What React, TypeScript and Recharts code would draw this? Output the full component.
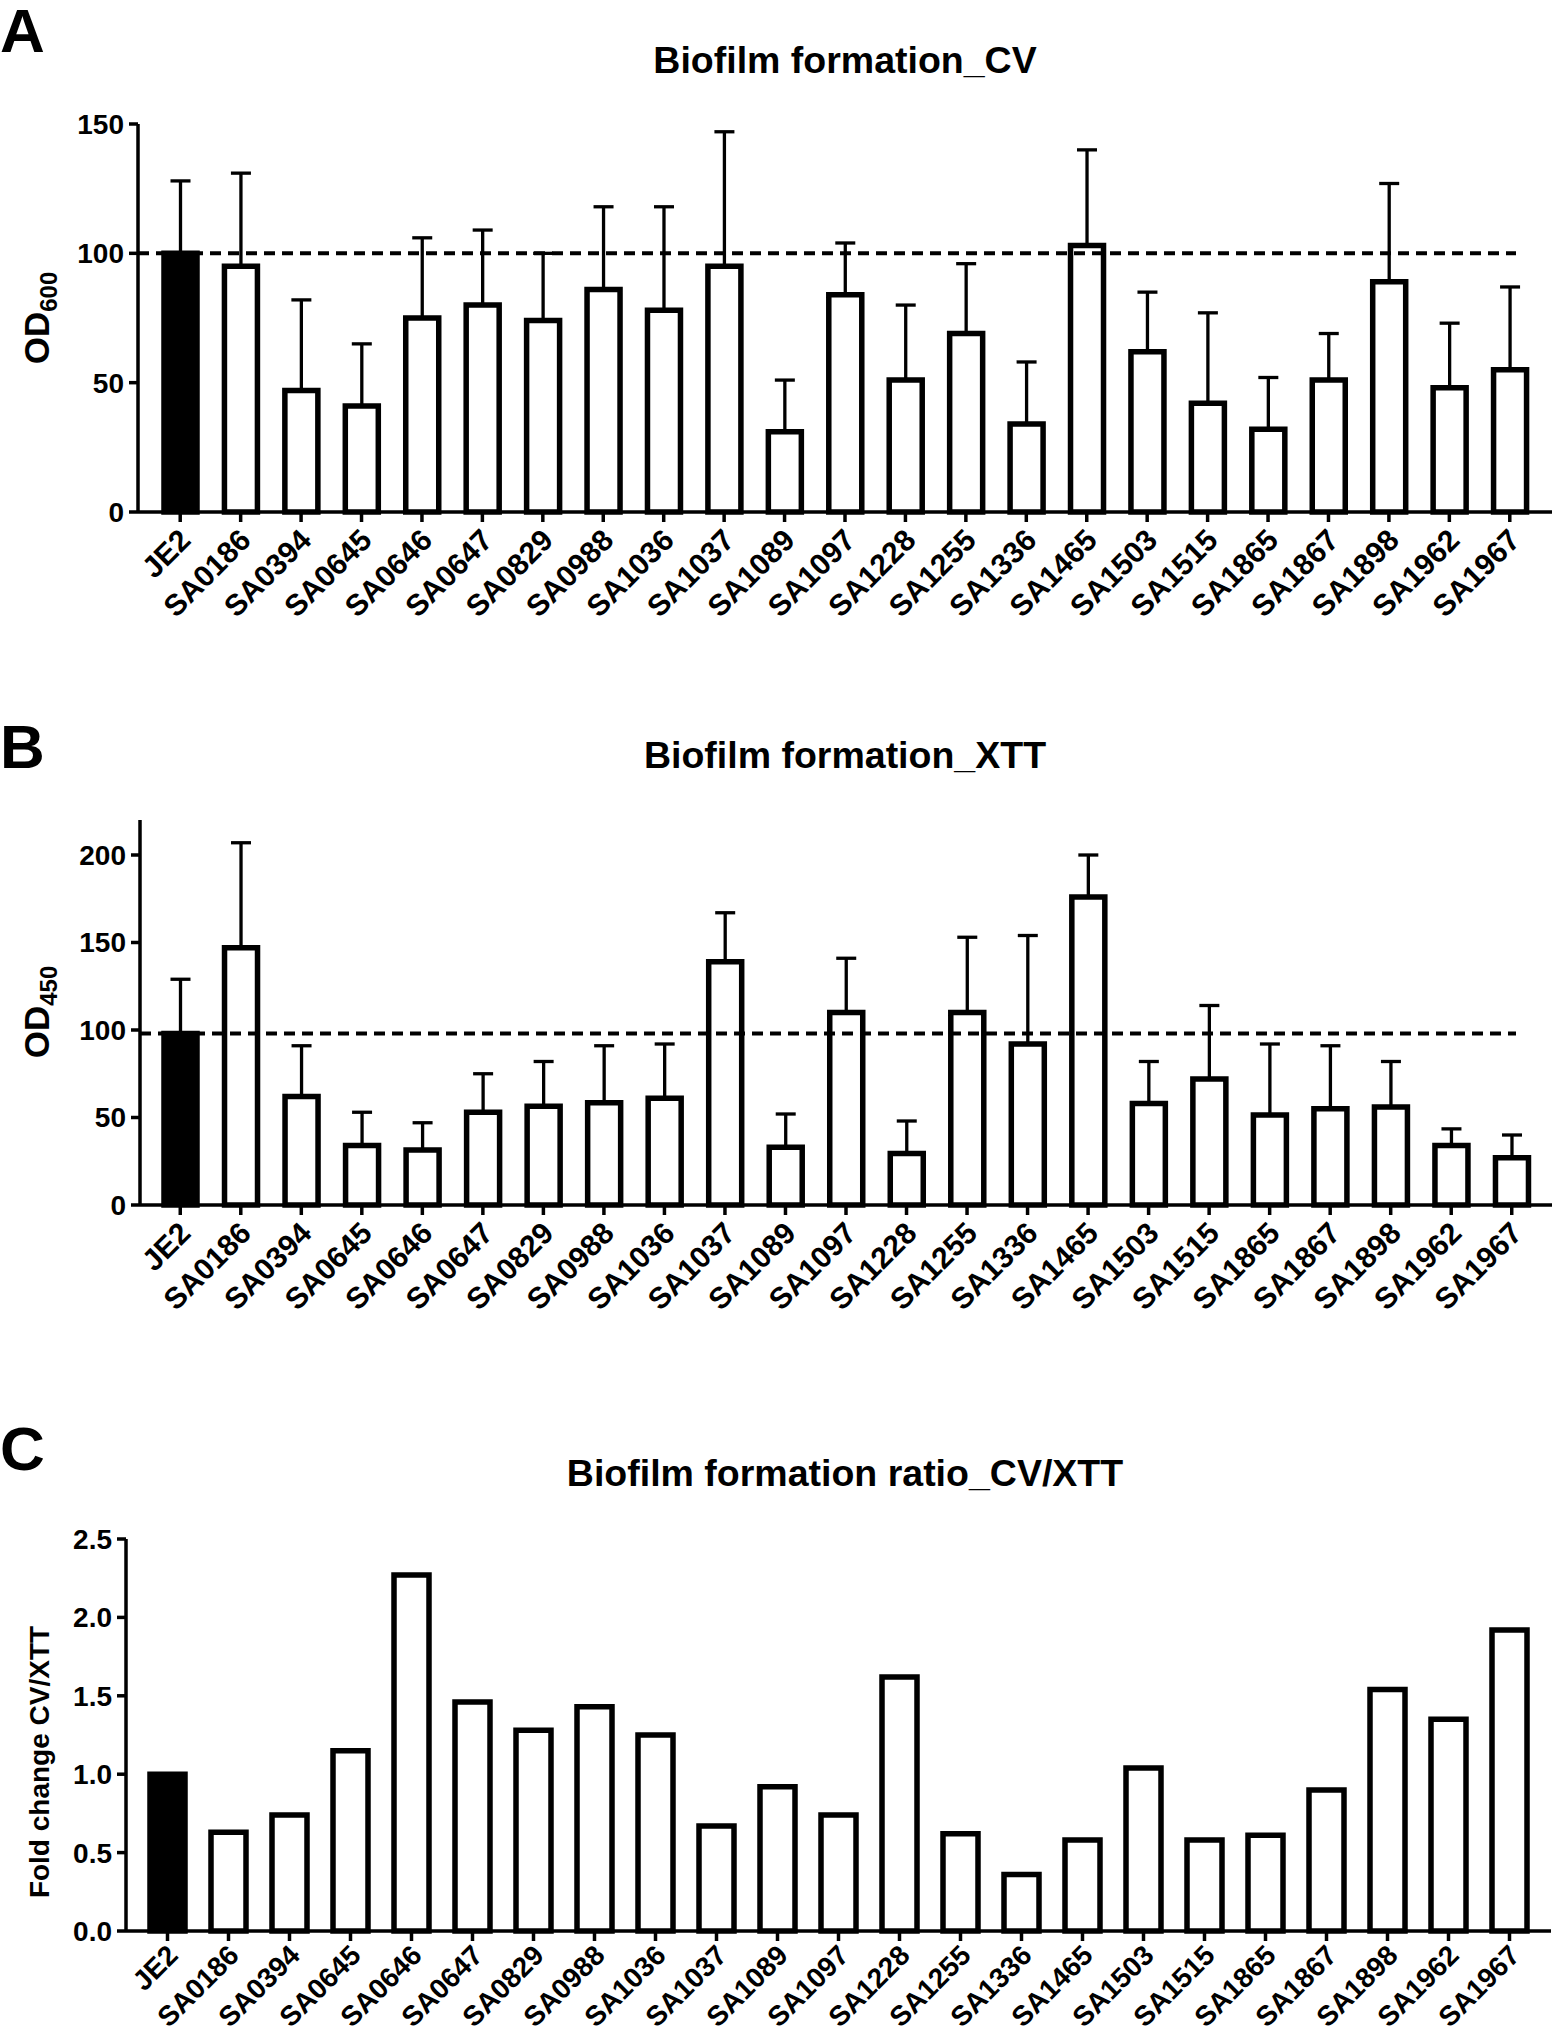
import React from "react";
import { BarChart, Bar, XAxis, YAxis, Cell, ErrorBar, ReferenceLine } from "recharts";

const strains = [
  "JE2", "SA0186", "SA0394", "SA0645", "SA0646", "SA0647", "SA0829", "SA0988",
  "SA1036", "SA1037", "SA1089", "SA1097", "SA1228", "SA1255", "SA1336", "SA1465",
  "SA1503", "SA1515", "SA1865", "SA1867", "SA1898", "SA1962", "SA1967",
];

// A: crystal violet, % of JE2 (mean + SD)
const cvMean = [100, 95, 47, 41, 75, 80, 74, 86, 78, 95, 31, 84, 51, 69, 34, 103, 62, 42, 32, 51, 89, 48, 55];
const cvSd = [28, 36, 35, 24, 31, 29, 26, 32, 40, 52, 20, 20, 29, 27, 24, 37, 23, 35, 20, 18, 38, 25, 32];
const cvTicks = [0, 50, 100, 150];
const cvControl = 100;

// B: XTT, % of JE2 (mean + SD)
const xttMean = [98, 147, 62, 34, 31.5, 53, 56.5, 58.5, 61, 139, 33, 110, 29.5, 110, 92, 176, 58, 72, 51.5, 55, 56, 34, 27];
const xttSd = [31, 60, 29, 19, 15.5, 22, 25.5, 32.5, 31, 28, 19, 31, 18.5, 43, 62, 24, 24, 42, 40.5, 36, 26, 9.5, 13];
const xttTicks = [0, 50, 100, 150, 200];
const xttControl = 98;

// C: ratio CV/XTT
const ratio = [1.0, 0.63, 0.74, 1.15, 2.27, 1.46, 1.28, 1.43, 1.25, 0.67, 0.92, 0.74, 1.62, 0.62, 0.36, 0.58, 1.04, 0.58, 0.61, 0.9, 1.54, 1.35, 1.92];
const ratioTicks = [0, 0.5, 1, 1.5, 2, 2.5];

const FONT = "'Liberation Sans', Arial, sans-serif";

const cvData = strains.map((s, i) => ({ name: s, mean: cvMean[i], err: [0, cvSd[i]] }));
const xttData = strains.map((s, i) => ({ name: s, mean: xttMean[i], err: [0, xttSd[i]] }));
const ratioData = strains.map((s, i) => ({ name: s, mean: ratio[i] }));

const StrainTick = ({ x, y, payload, size = 30, dy = 18 }: any) => (
  <g transform={`translate(${x + 12},${y + dy})`}>
    <text textAnchor="end" transform="rotate(-45)" fontSize={size} fontWeight="bold" fontFamily={FONT} fill="#000">
      {payload.value}
    </text>
  </g>
);

const tickStyle = { fontSize: 28, fontWeight: "bold", fill: "#000", fontFamily: FONT };
const axisLine = { stroke: "#000", strokeWidth: 3.5 };
const tickLine = { stroke: "#000", strokeWidth: 3.5 };

const dashed = (p: any) => (
  <line x1={p.x1} y1={p.y1} x2={p.x2 - 36} y2={p.y2} stroke="#000" strokeWidth={4} strokeDasharray="11 7" />
);

const textBase: React.CSSProperties = {
  position: "absolute", fontFamily: FONT, fontWeight: "bold", color: "#000", lineHeight: 1, whiteSpace: "nowrap",
};

function PanelLetter({ text, top }: { text: string; top: number }) {
  return <div style={{ ...textBase, left: 0, top, fontSize: 62 }}>{text}</div>;
}

function Title({ text, cy }: { text: string; cy: number }) {
  return (
    <div style={{ ...textBase, left: 845, top: cy, fontSize: 37.5, transform: "translate(-50%,-50%)" }}>{text}</div>
  );
}

function YLabel({ cx, cy, size, children }: { cx: number; cy: number; size: number; children: React.ReactNode }) {
  return (
    <div style={{ ...textBase, left: cx, top: cy, fontSize: size, transform: "translate(-50%,-50%) rotate(-90deg)" }}>
      {children}
    </div>
  );
}

const Sub = ({ children }: { children: React.ReactNode }) => (
  <span style={{ fontSize: 24, verticalAlign: "-0.3em" }}>{children}</span>
);

const svgStyle = { overflow: "visible" };

export default function App() {
  return (
    <div style={{ position: "absolute", left: 0, top: 0, width: 1554, height: 2040, background: "#fff" }}>
      {/* A */}
      <PanelLetter text="A" top={0} />
      <Title text="Biofilm formation_CV" cy={61} />
      <YLabel cx={40} cy={318} size={35}>OD<Sub>600</Sub></YLabel>
      <div style={{ position: "absolute", left: 0, top: 0 }}>
        <BarChart width={1554} height={660} data={cvData} style={svgStyle}
          margin={{ top: 124, right: 2, bottom: 0, left: 0 }}>
          <XAxis dataKey="name" interval={0} height={148} padding={{ left: 12, right: 12 }}
            axisLine={axisLine} tickLine={tickLine} tickSize={10} tick={<StrainTick />} />
          <YAxis width={138} domain={[0, 150]} ticks={cvTicks} axisLine={axisLine}
            tickLine={tickLine} tickSize={9} tickMargin={5} tick={tickStyle} />
          <Bar dataKey="mean" barSize={33} stroke="#000" strokeWidth={5.5} isAnimationActive={false}>
            {cvData.map((_, i) => <Cell key={i} fill={i === 0 ? "#000" : "#fff"} />)}
            <ErrorBar dataKey="err" width={10} stroke="#000" strokeWidth={3.3} direction="y" />
          </Bar>
          <ReferenceLine y={cvControl} shape={dashed} />
        </BarChart>
      </div>

      {/* B */}
      <PanelLetter text="B" top={716} />
      <Title text="Biofilm formation_XTT" cy={756} />
      <YLabel cx={40} cy={1012} size={35}>OD<Sub>450</Sub></YLabel>
      <div style={{ position: "absolute", left: 0, top: 700 }}>
        <BarChart width={1554} height={653} data={xttData} style={svgStyle}
          margin={{ top: 120, right: 2, bottom: 0, left: 0 }}>
          <XAxis dataKey="name" interval={0} height={148} padding={{ left: 10, right: 10 }}
            axisLine={axisLine} tickLine={tickLine} tickSize={10} tick={<StrainTick />} />
          <YAxis width={140} domain={[0, 220]} ticks={xttTicks} axisLine={axisLine}
            tickLine={tickLine} tickSize={9} tickMargin={5} tick={tickStyle} />
          <Bar dataKey="mean" barSize={33} stroke="#000" strokeWidth={5.5} isAnimationActive={false}>
            {xttData.map((_, i) => <Cell key={i} fill={i === 0 ? "#000" : "#fff"} />)}
            <ErrorBar dataKey="err" width={10} stroke="#000" strokeWidth={3.3} direction="y" />
          </Bar>
          <ReferenceLine y={xttControl} shape={dashed} />
        </BarChart>
      </div>

      {/* C */}
      <PanelLetter text="C" top={1418} />
      <Title text="Biofilm formation ratio_CV/XTT" cy={1474} />
      <YLabel cx={40} cy={1762} size={28}>Fold change CV/XTT</YLabel>
      <div style={{ position: "absolute", left: 0, top: 1400 }}>
        <BarChart width={1554} height={640} data={ratioData} style={svgStyle}
          margin={{ top: 139, right: 3, bottom: 0, left: 0 }}>
          <XAxis dataKey="name" interval={0} height={109} padding={{ left: 11, right: 11 }}
            axisLine={axisLine} tickLine={tickLine} tickSize={10} tick={<StrainTick size={28} dy={14} />} />
          <YAxis width={126} domain={[0, 2.5]} ticks={ratioTicks} tickFormatter={(v: number) => v.toFixed(1)}
            axisLine={axisLine} tickLine={tickLine} tickSize={9} tickMargin={5} tick={tickStyle} />
          <Bar dataKey="mean" barSize={35} stroke="#000" strokeWidth={5.5} isAnimationActive={false}>
            {ratioData.map((_, i) => <Cell key={i} fill={i === 0 ? "#000" : "#fff"} />)}
          </Bar>
        </BarChart>
      </div>
    </div>
  );
}
